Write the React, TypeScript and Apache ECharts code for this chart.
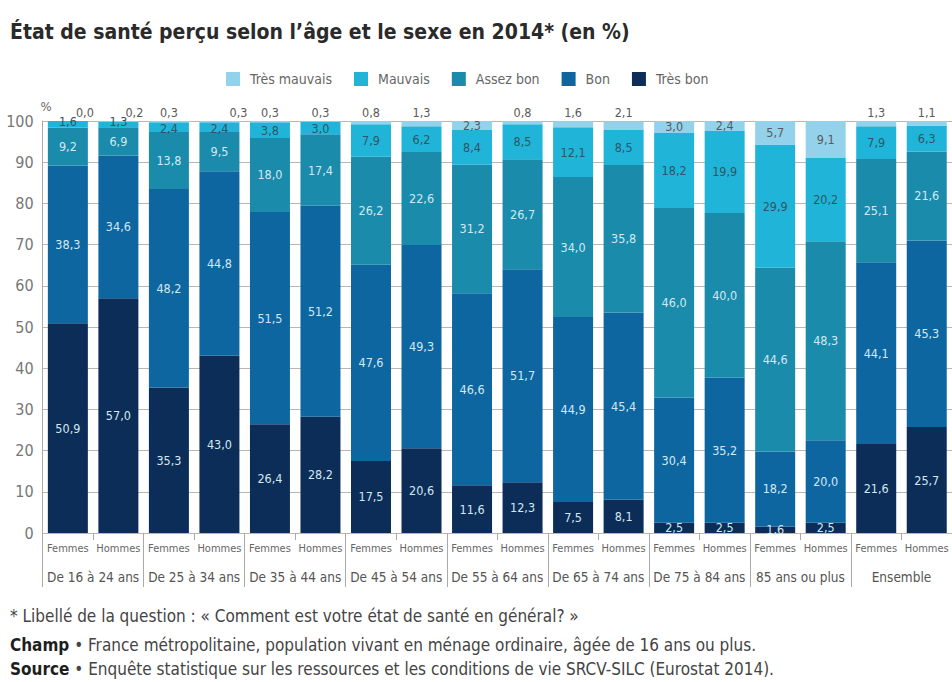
import React, { useEffect, useRef } from "react";
import * as echarts from "echarts";

const sexes = ["Femmes", "Hommes", "Femmes", "Hommes", "Femmes", "Hommes", "Femmes", "Hommes", "Femmes", "Hommes", "Femmes", "Hommes", "Femmes", "Hommes", "Femmes", "Hommes", "Femmes", "Hommes"];
const groups = ["De 16 à 24 ans", "De 25 à 34 ans", "De 35 à 44 ans", "De 45 à 54 ans", "De 55 à 64 ans", "De 65 à 74 ans", "De 75 à 84 ans", "85 ans ou plus", "Ensemble"];
const yTicks = [0, 10, 20, 30, 40, 50, 60, 70, 80, 90, 100];

const tresBon = [50.9, 57.0, 35.3, 43.0, 26.4, 28.2, 17.5, 20.6, 11.6, 12.3, 7.5, 8.1, 2.5, 2.5, 1.6, 2.5, 21.6, 25.7];
const bon = [38.3, 34.6, 48.2, 44.8, 51.5, 51.2, 47.6, 49.3, 46.6, 51.7, 44.9, 45.4, 30.4, 35.2, 18.2, 20.0, 44.1, 45.3];
const assezBon = [9.2, 6.9, 13.8, 9.5, 18.0, 17.4, 26.2, 22.6, 31.2, 26.7, 34.0, 35.8, 46.0, 40.0, 44.6, 48.3, 25.1, 21.6];
const mauvais = [1.6, 1.3, 2.4, 2.4, 3.8, 3.0, 7.9, 6.2, 8.4, 8.5, 12.1, 8.5, 18.2, 19.9, 29.9, 20.2, 7.9, 6.3];
const tresMauvais = [0.0, 0.2, 0.3, 0.3, 0.3, 0.3, 0.8, 1.3, 2.3, 0.8, 1.6, 2.1, 3.0, 2.4, 5.7, 9.1, 1.3, 1.1];

const FONT = '"DejaVu Sans Condensed", "Liberation Sans Narrow", Arial, sans-serif';

const fmt = (v: number) => v.toFixed(1).replace(".", ",");

export default function App() {
  const ref = useRef<HTMLDivElement>(null);
  useEffect(() => {
    if (!ref.current) return;
    const chart = echarts.init(ref.current, null, { renderer: "svg" });

    const lightLabel = { show: true, position: "inside", color: "#d3e8f2", fontSize: 12.5, fontFamily: FONT, formatter: (p: any) => fmt(p.value) };
    const darkLabel = { ...lightLabel, color: "#2e5566" };
    const greyLabel = { ...lightLabel, color: "#5a5a5a" };

    // label shifts for the tiny top segments that overlap neighbouring labels
    const shiftRight: Record<number, number> = { 0: 17, 1: 16, 3: 19 };

    const tmData = tresMauvais.map((v, i) => {
      if (v < 2.2) {
        return {
          value: v,
          label: { position: "top", distance: 2, offset: [shiftRight[i] || 0, 0] },
        };
      }
      return { value: v };
    });

    const mData = mauvais.map((v, i) => (v < 2.5 ? { value: v, label: { offset: [0, i < 2 ? -3 : 1] } } : { value: v }));

    const base = { type: "bar", stack: "s", barWidth: 40, xAxisIndex: 0 };

    const richB = { fontFamily: FONT, fontSize: 17, fontWeight: "bold", fill: "#1e1e1e", color: "#1e1e1e" };

    chart.setOption({
      animation: false,
      title: {
        text: "État de santé perçu selon l’âge et le sexe en 2014* (en %)",
        left: 10,
        top: 21,
        padding: 0,
        textStyle: { fontFamily: FONT, fontWeight: "bold", fontSize: 21, color: "#2a2a2a" },
      },
      legend: {
        top: 67,
        left: 221,
        itemWidth: 14,
        itemHeight: 14,
        itemGap: 22,
        icon: "rect",
        data: ["Très mauvais", "Mauvais", "Assez bon", "Bon", "Très bon"],
        textStyle: { fontFamily: FONT, fontSize: 14, color: "#666", padding: [0, 0, 0, 5] },
      },
      grid: { left: 42.6, top: 121, width: 913.8, height: 412 },
      xAxis: [
        {
          type: "category",
          data: sexes,
          gridIndex: 0,
          position: "bottom",
          axisLine: { show: false },
          axisTick: { show: true, length: 7, interval: 0, lineStyle: { color: "#aaa" } },
          axisLabel: { interval: 0, margin: 10, fontFamily: FONT, fontSize: 11, color: "#666" },
        },
        {
          type: "category",
          data: groups,
          gridIndex: 0,
          position: "bottom",
          axisLine: { show: false },
          axisTick: { show: true, length: 54, interval: 0, lineStyle: { color: "#aaa" } },
          axisLabel: { interval: 0, margin: 37, fontFamily: FONT, fontSize: 13.5, color: "#555" },
        },
      ],
      yAxis: {
        type: "value",
        min: 0,
        max: 100,
        interval: 10,
        name: "%",
        nameGap: 8,
        nameTextStyle: { fontFamily: FONT, fontSize: 13, color: "#666", align: "left", padding: [0, 0, 0, -2] },
        axisLine: { show: true, lineStyle: { color: "#aaa" } },
        axisTick: { show: false },
        axisLabel: {
          margin: 9,
          fontFamily: FONT,
          fontSize: 16,
          color: "#777",
          formatter: (v: number) => (yTicks.includes(v) ? String(v) : ""),
        },
        splitLine: { show: true, lineStyle: { color: "#bdb6ae", width: 1 } },
      },
      series: [
        { ...base, name: "Très bon", data: tresBon, itemStyle: { color: "#0b2d57" }, label: lightLabel },
        { ...base, name: "Bon", data: bon, itemStyle: { color: "#0e66a1" }, label: lightLabel },
        { ...base, name: "Assez bon", data: assezBon, itemStyle: { color: "#1a8bab" }, label: lightLabel },
        { ...base, name: "Mauvais", data: mData, itemStyle: { color: "#20b5d8" }, label: darkLabel },
        { ...base, name: "Très mauvais", data: tmData, itemStyle: { color: "#93d2ea" }, label: greyLabel },
      ],
      graphic: [
        {
          type: "text",
          left: 10,
          top: 607,
          style: {
            text: "* Libellé de la question : « Comment est votre état de santé en général? »",
            fontFamily: FONT,
            fontSize: 17,
            fill: "#444",
          },
        },
        {
          type: "text",
          left: 10,
          top: 636,
          style: {
            text: "{b|Champ} • France métropolitaine, population vivant en ménage ordinaire, âgée de 16 ans ou plus.",
            fontFamily: FONT,
            fontSize: 17,
            fill: "#444",
            rich: { b: richB },
          },
        },
        {
          type: "text",
          left: 10,
          top: 660,
          style: {
            text: "{b|Source} • Enquête statistique sur les ressources et les conditions de vie SRCV-SILC (Eurostat 2014).",
            fontFamily: FONT,
            fontSize: 17,
            fill: "#444",
            rich: { b: richB },
          },
        },
      ],
    });
    return () => chart.dispose();
  }, []);
  return <div ref={ref} style={{ position: "absolute", left: 0, top: 0, width: 952, height: 682, background: "#fff" }} />;
}
